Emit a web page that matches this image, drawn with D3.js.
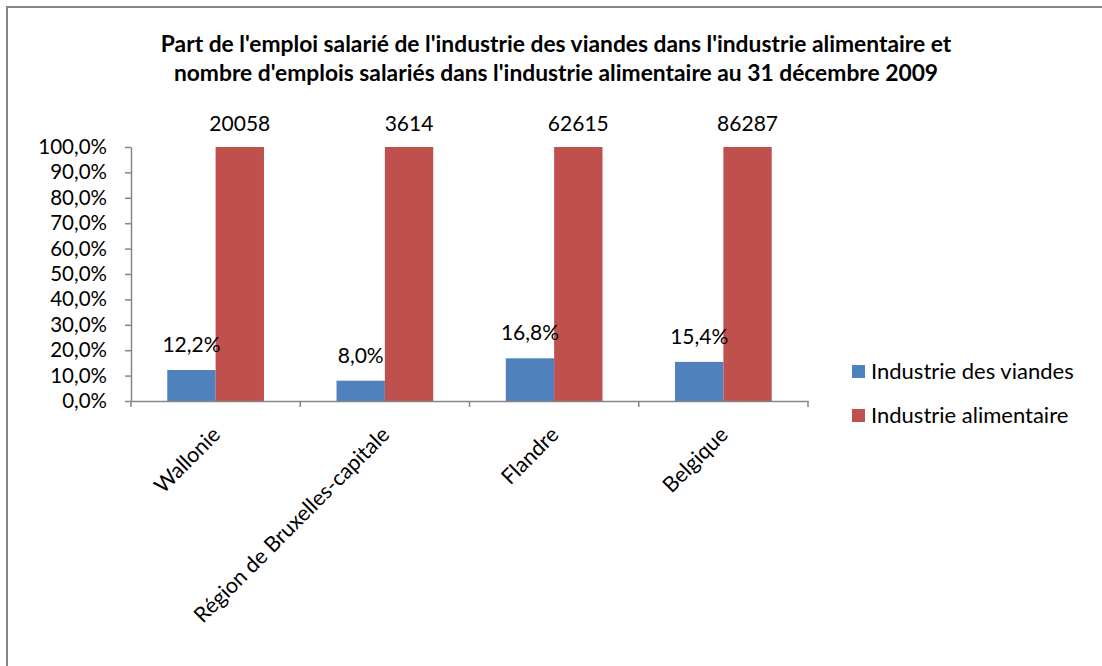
<!DOCTYPE html>
<html lang="fr">
<head>
<meta charset="utf-8">
<title>Industrie des viandes</title>
<script src="https://d3js.org/d3.v7.min.js"></script>
<style>
  body { margin: 0; background: #fff; }
  svg { display: block; font-family: Lato, "Open Sans", sans-serif; }
</style>
</head>
<body>
<div id="chart"></div>
<script>
// data
const regions = ["Wallonie", "Région de Bruxelles-capitale", "Flandre", "Belgique"];
const seriesNames = ["Industrie des viandes", "Industrie alimentaire"];
const viandes = [0.122, 0.080, 0.168, 0.154];
const alimentaire = [1, 1, 1, 1];
const emplois = [20058, 3614, 62615, 86287];
const yTicks = [0, 0.1, 0.2, 0.3, 0.4, 0.5, 0.6, 0.7, 0.8, 0.9, 1];

const width = 1102, height = 666;
const colors = ["#4F81BD", "#C0504D"];
const axisColor = "#868686";
const margin = {left: 131, top: 147, right: 294, bottom: 265};

const svg = d3.select("#chart").append("svg")
    .attr("width", width)
    .attr("height", height);

// chart frame (cut by the picture on the right and bottom)
svg.append("rect")
    .attr("x", 7).attr("y", 7)
    .attr("width", width).attr("height", height)
    .attr("fill", "none")
    .attr("stroke", axisColor)
    .attr("stroke-width", 2);

const title = [
  "Part de l'emploi salarié de l'industrie des viandes dans l'industrie alimentaire et",
  "nombre d'emplois salariés dans l'industrie alimentaire au 31 décembre 2009"
];
svg.append("g")
    .selectAll("text")
    .data(title)
    .join("text")
    .attr("x", 556)
    .attr("y", (d, i) => 52 + i * 29)
    .attr("text-anchor", "middle")
    .attr("font-weight", "bold")
    .attr("font-size", 22.8)
    .text(d => d);

const x = d3.scaleBand()
    .domain(regions)
    .range([margin.left, width - margin.right])
    .paddingInner(0)
    .paddingOuter(0);
const xs = d3.scaleBand()
    .domain(seriesNames)
    .range([0, x.bandwidth()])
    .paddingInner(0)
    .paddingOuter(0.75);
const y = d3.scaleLinear()
    .domain([0, 1])
    .range([height - margin.bottom, margin.top]);

// bars
const rows = regions.map((r, i) => ({region: r, values: [viandes[i], alimentaire[i]], emplois: emplois[i]}));

const groups = svg.append("g")
    .selectAll("g")
    .data(rows)
    .join("g")
    .attr("transform", d => `translate(${x(d.region)},0)`);

groups.selectAll("rect")
    .data(d => d.values.map((v, j) => ({name: seriesNames[j], value: v, j})))
    .join("rect")
    .attr("x", d => xs(d.name))
    .attr("y", d => y(d.value))
    .attr("width", xs.bandwidth())
    .attr("height", d => y(0) - y(d.value))
    .attr("fill", d => colors[d.j]);

// data labels
const fmtPct = v => d3.format(".1f")(v * 100).replace(".", ",") + "%";
groups.append("text")
    .attr("x", xs(seriesNames[0]) + xs.bandwidth() / 2)
    .attr("y", d => y(d.values[0]) - 18)
    .attr("text-anchor", "middle")
    .attr("font-size", 21)
    .text(d => fmtPct(d.values[0]));
groups.append("text")
    .attr("x", xs(seriesNames[1]) + xs.bandwidth() / 2)
    .attr("y", d => y(d.values[1]) - 16)
    .attr("text-anchor", "middle")
    .attr("font-size", 21)
    .text(d => d.emplois);

// y axis
const yAxis = svg.append("g")
    .attr("transform", `translate(${margin.left},0)`)
    .call(d3.axisLeft(y).tickValues(yTicks).tickSize(6).tickSizeOuter(0).tickPadding(18).tickFormat(fmtPct));
yAxis.selectAll("text").attr("font-size", 20.5).attr("fill", "#000").attr("font-family", "Lato, sans-serif");

// x axis
const xAxis = svg.append("g")
    .attr("transform", `translate(0,${y(0)})`)
    .call(d3.axisBottom(x).tickSize(0).tickSizeOuter(0).tickFormat(""));
xAxis.selectAll(".tick").remove();
xAxis.selectAll("line.sep")
    .data(d3.range(regions.length + 1))
    .join("line")
    .attr("class", "sep")
    .attr("x1", i => margin.left + i * x.step())
    .attr("x2", i => margin.left + i * x.step())
    .attr("y1", 0).attr("y2", 6);
xAxis.selectAll("text.lab")
    .data(regions)
    .join("text")
    .attr("class", "lab")
    .attr("transform", d => `translate(${x(d) + x.bandwidth() / 2 + 6},${35}) rotate(-45)`)
    .attr("text-anchor", "end")
    .attr("font-size", 21.5)
    .attr("font-family", "Lato, sans-serif")
    .attr("fill", "#000")
    .text(d => d);

svg.selectAll(".domain, .tick line, line.sep")
    .attr("stroke", axisColor)
    .attr("stroke-width", 1.5);

// legend
const legend = svg.append("g")
    .selectAll("g")
    .data(seriesNames)
    .join("g")
    .attr("transform", (d, i) => `translate(852,${371 + i * 44})`);
legend.append("rect")
    .attr("x", 0).attr("y", -6)
    .attr("width", 13).attr("height", 13)
    .attr("fill", (d, i) => colors[i]);
legend.append("text")
    .attr("x", 19).attr("y", 0)
    .attr("dy", "0.35em")
    .attr("font-size", 22)
    .text(d => d);
</script>
</body>
</html>
